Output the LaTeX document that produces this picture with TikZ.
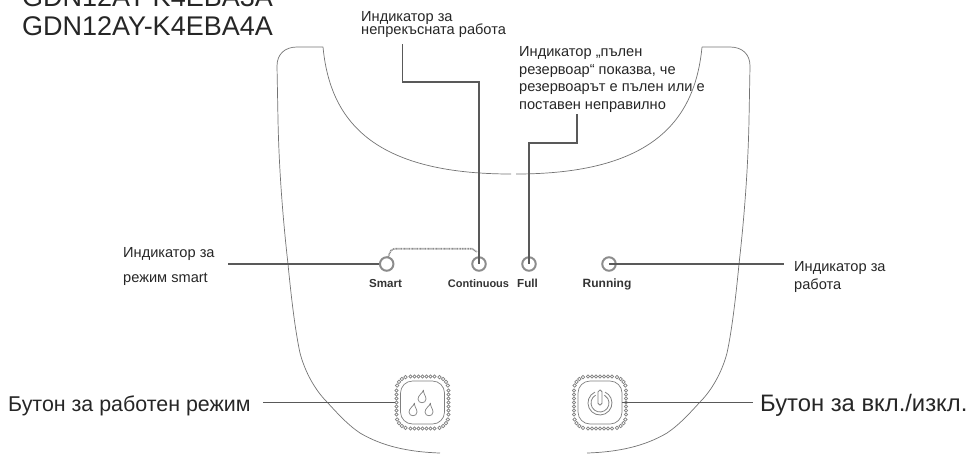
\documentclass[tikz,border=0pt]{standalone}
\usepackage{fontspec}
\setmainfont{Liberation Sans}
\newcommand{\fs}[1]{\fontsize{#1}{#1}\selectfont}
\newcommand{\mlines}[2]{\vbox{\lineskiplimit=-100pt\baselineskip=#1pt #2}}
\tikzset{
 lbl/.style={inner sep=0pt,anchor=base west,align=left,text=black!85},
 small/.style={lbl,font=\fs{14.6}},
 model/.style={lbl,font=\fs{27}},
 key/.style={inner sep=0pt,anchor=base,font=\fs{11}\bfseries,text=black!80},
 lamp/.style={circle,draw=black!45,line width=2pt,minimum size=13.5pt,inner sep=0pt},
 leader/.style={draw=black!65,line width=1.1pt},
 hull/.style={draw=black!55,line width=0.7pt},
 btn/.style={draw=black!50,line width=0.7pt},
 btnbox/.style={btn,rectangle,rounded corners=12pt,minimum width=44pt,minimum height=43pt,inner sep=0pt},
 dot/.style={circle,draw=black!50,line width=0.7pt,minimum size=3.4pt,inner sep=0pt},
}
\begin{document}
\begin{tikzpicture}[x=1pt,y=-1pt]
\useasboundingbox (0,0) rectangle (968,453);
\clip (0,0) rectangle (968,453);
% body
\draw[hull] (323,47) -- (297,47) .. controls (285,47) and (277,54) .. (277,66)
  -- (278,120) .. controls (279,170) and (283,220) .. (288,264)
  .. controls (291,295) and (295,330) .. (300,353)
  .. controls (305,372) and (315,390) .. (327,402)
  .. controls (338,414) and (348,425) .. (360,433)
  .. controls (382,446) and (408,452) .. (440,453);
\draw[hull] (702,47) -- (730,47) .. controls (742,47) and (750,54) .. (750,66)
  -- (749,120) .. controls (748,170) and (744,220) .. (739,264)
  .. controls (736,295) and (732,330) .. (727,353)
  .. controls (722,372) and (712,390) .. (700,402)
  .. controls (689,414) and (679,425) .. (667,433)
  .. controls (645,446) and (619,452) .. (587,453);
\draw[hull] (323,47) .. controls (330,120) and (372,174) .. (511,174);
\draw[hull] (702,47) .. controls (695,120) and (653,174) .. (516,174);
% lamps
\node[lamp] (smart) at (386.7,264) {};
\node[lamp] (cont) at (479,264) {};
\node[lamp] (full) at (529,264) {};
\node[lamp] (run) at (609,264) {};
\node[key,font=\fs{11.6}\bfseries] (ksmart) at (385.5,287) {Smart};
\node[key] (kcont) at (478.5,287) {Continuous};
\node[key,font=\fs{11.6}\bfseries] (kfull) at (527.5,287) {Full};
\node[key,font=\fs{12}\bfseries] (krun) at (607,287) {Running};
\draw[draw=black!45,line width=1.6pt,dash pattern=on 1pt off 0.6pt] (388,257) -- (391,250.5) -- (394,248.7) -- (472,248.7) -- (477,252);
% labels
\node[model] (m1) at (22,6) {GDN12AY-K4EBA3A};
\node[model] (m2) at (22,35) {GDN12AY-K4EBA4A};
\node[small] (tcont) at (361,34) {\mlines{12.6}{\hbox{Индикатор за}\hbox{непрекъсната работа}}};
\node[small] (tfull) at (519,109) {\mlines{17.5}{\hbox{Индикатор „пълен}\hbox{резервоар“ показва, че}\hbox{резервоарът е пълен или е}\hbox{поставен неправилно}}};
\node[small] (tsmart) at (123,282) {\mlines{25}{\hbox{Индикатор за}\hbox{режим smart}}};
\node[small] (trun) at (794,289) {\mlines{18}{\hbox{Индикатор за}\hbox{работа}}};
\node[lbl,font=\fs{21.4}] (tmode) at (8,411) {Бутон за работен режим};
\node[lbl,font=\fs{23.8}] (tpow) at (760,411) {Бутон за вкл./изкл.};
% buttons
\node[btnbox] (bmode) at (422.5,402.5) {};
\node[btnbox] (bpow) at (600,402.5) {};
\foreach \c in {422.5,600}{
 \foreach \t in {-12,-8,...,12}{
  \node[dot] at (\c+\t,402.5-26) {};
  \node[dot] at (\c+\t,402.5+26) {};
  \node[dot] at (\c-26,402.5+\t) {};
  \node[dot] at (\c+26,402.5+\t) {};
 }
 \foreach \a in {18,36,54,72}{
  \foreach \sx in {-1,1}{
   \foreach \sy in {-1,1}{
    \node[dot] at ({\c+\sx*(13+13*cos(\a))},{402.5+\sy*(13+13*sin(\a))}) {};
   }
  }
 }
}
% drops
\foreach \dx/\dy in {422/397,413/410,429/410}{
 \draw[btn] (\dx+1.5,\dy-7) .. controls (\dx+1,\dy-4) and (\dx-4,\dy-2) .. (\dx-4,\dy+2)
  .. controls (\dx-4,\dy+7) and (\dx+4,\dy+7) .. (\dx+4,\dy+2)
  .. controls (\dx+4,\dy-1) and (\dx+1,\dy-4) .. (\dx+1.5,\dy-7);
}
% power
\draw[btn,line width=0.8pt] (594.9,392.1) arc[start angle=-115,delta angle=-310,radius=12];
\draw[btn,line width=0.8pt] (595.5,395.2) arc[start angle=-120,delta angle=-300,radius=9];
\draw[btn,line width=0.8pt,fill=white,rounded corners=1.8pt] (598,390) rectangle (602,405);
% leaders
\coordinate (c1) at (402.7,44);
\coordinate (c2) at (402.7,82);
\coordinate (c3) at (479,82);
\coordinate (f1) at (577,114);
\coordinate (f2) at (577,143);
\coordinate (f3) at (529,143);
\coordinate (ls) at (228,264);
\coordinate (lr) at (784,264);
\coordinate (lm) at (263,402.5);
\coordinate (lp) at (753,402.5);
\draw[leader] (c1) -- (c2) -- (c3) -- (cont.center);
\draw[leader] (f1) -- (f2) -- (f3) -- (full.center);
\draw[leader] (ls) -- (smart.west);
\draw[leader] (run.center) -- (lr);
\draw[leader] (lm) -- ([xshift=-5.5pt]bmode.west);
\draw[leader] (bpow.east) -- (lp);
\end{tikzpicture}
\end{document}
